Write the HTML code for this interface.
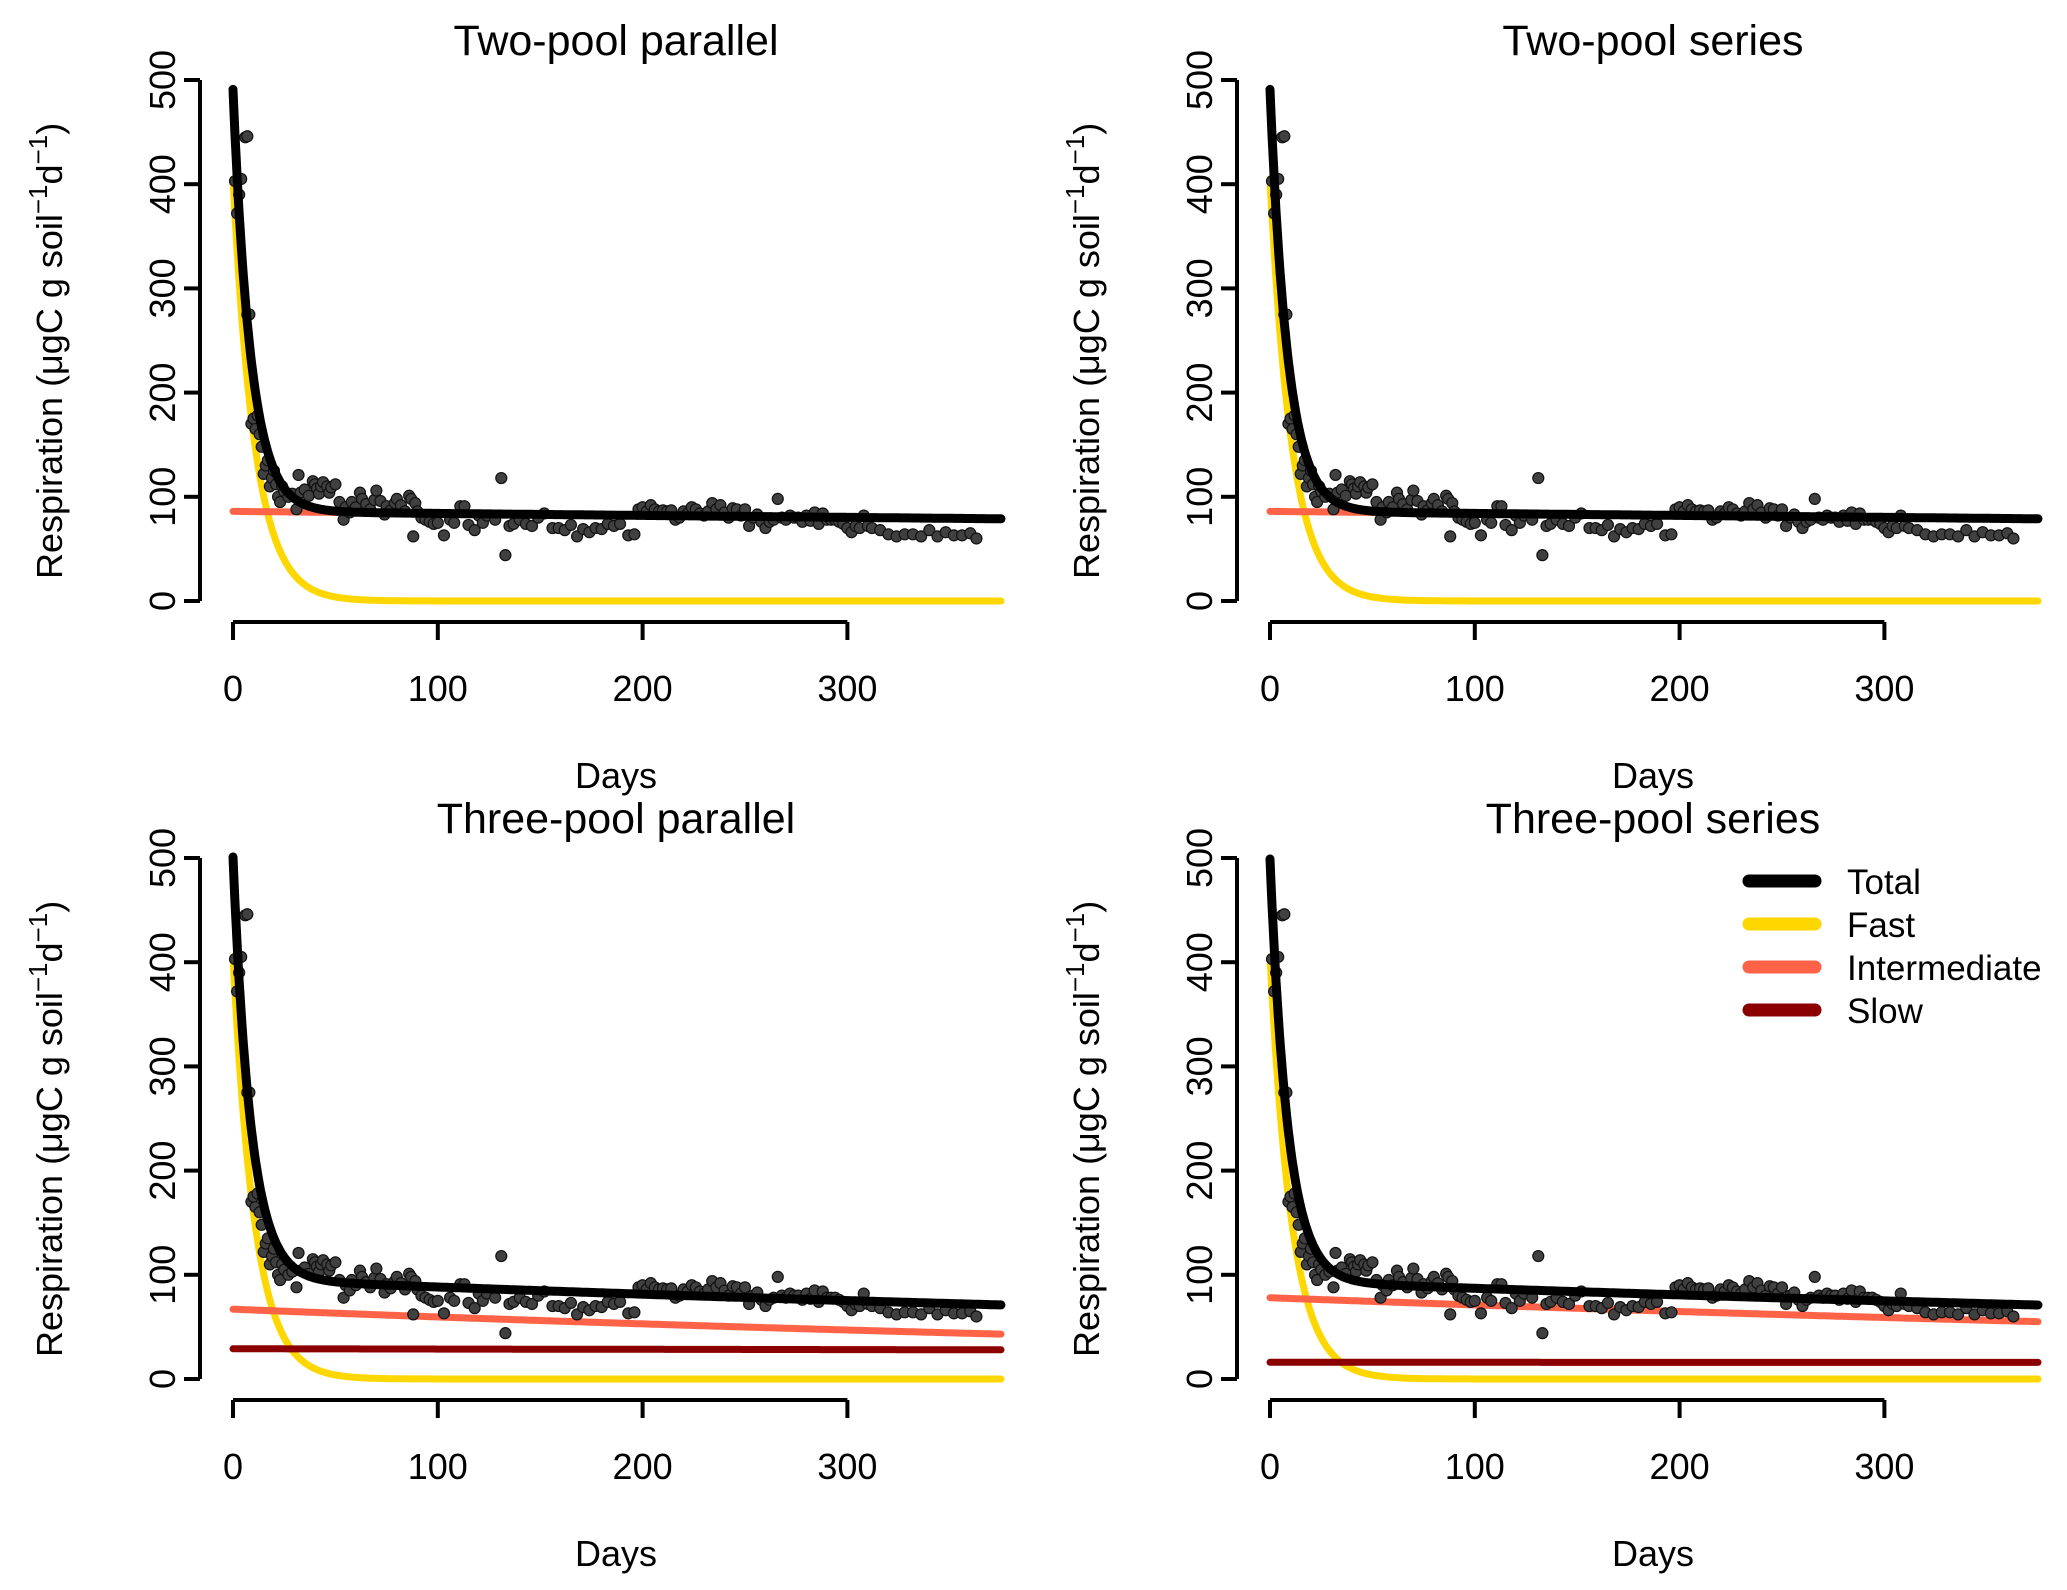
<!DOCTYPE html>
<html><head><meta charset="utf-8"><style>
html,body{margin:0;padding:0;background:#fff;}
svg{display:block;font-family:"Liberation Sans",Arial,sans-serif;}
</style></head><body>
<svg id="chart" width="2067" height="1590" viewBox="0 0 2067 1590" xmlns="http://www.w3.org/2000/svg"></svg>
<script>
const obsDays=[1,2,3,4,6,7,7,8,9,10,11,12,13,14,15,16,17,18,19,20,21,22,23,24,25,27,29,31,32,33,35,37,39,40,41,42,43,44,46,47,48,50,52,54,55,57,58,60,62,63,65,67,69,70,72,74,75,77,79,80,82,84,86,87,88,89,90,92,94,96,98,100,103,106,108,111,113,115,118,120,122,124,128,131,133,135,137,140,143,146,149,152,156,159,162,165,168,171,174,177,180,183,186,189,193,196,198,200,202,204,206,208,210,212,214,216,218,220,222,224,226,228,230,232,234,236,238,240,242,244,246,248,250,252,254,256,258,260,262,264,266,268,270,272,274,276,278,280,282,284,286,288,290,292,294,296,298,300,302,304,306,308,310,312,316,320,324,328,332,336,340,344,348,352,356,360,363];
const obsResp=[403,372,390,405,445,446,275,275,170,175,165,178,160,148,122,130,135,110,118,125,112,100,95,110,105,100,103,88,121,104,107,101,115,112,108,103,110,114,110,104,109,112,95,78,90,85,95,90,104,98,93,88,97,106,96,83,91,87,94,98,92,86,101,98,62,94,86,80,78,76,74,75,63,78,75,91,91,73,68,82,75,82,78,118,44,72,74,78,74,72,80,84,70,70,68,73,62,69,66,70,69,74,72,74,63,64,88,90,86,92,88,86,87,86,87,78,80,86,84,90,88,84,82,86,94,88,92,85,80,89,88,82,88,72,80,83,76,70,76,78,98,80,78,82,80,80,76,82,77,85,74,84,78,78,78,76,74,70,66,72,70,82,72,70,68,64,62,64,64,62,68,62,66,63,63,65,60];
const panelTitles=["Two-pool parallel","Two-pool series","Three-pool parallel","Three-pool series"];
// fitted pool parameters per panel: [initial rate, decay rate per day]
const fastPool=[[405,0.093],[405,0.093],[405,0.093],[405,0.093]];
const totalFastPart=[[405,0.115],[405,0.115],[405,0.115],[405,0.115]];
const interPool=[[86,0.00023],[86,0.00023],[67,0.00118],[78,0.00093]];
const slowPool=[null,null,[29,0.00009],[16,0.00001]];
const xTicks=[0,100,200,300];
const yTicks=[0,100,200,300,400,500];
const legendLabels=["Total","Fast","Intermediate","Slow"];
const legendColors=["#000000","#FFD700","#FF6347","#8B0000"];

const NS="http://www.w3.org/2000/svg";
const svg=document.getElementById('chart');
function mk(tag,attrs,parent){const e=document.createElementNS(NS,tag);for(const k in attrs)e.setAttribute(k,attrs[k]);(parent||svg).appendChild(e);return e;}
const offsets=[[0,0],[1037,0],[0,778],[1037,778]];
const XMAX=375;
offsets.forEach((o,p)=>{
  const g=mk('g',{});
  
  
  const sx=d=>233+o[0]+d*2.048;
  const sy=v=>601+o[1]-v*1.042;
  const t=mk('text',{x:sx(187),y:55+o[1],'font-size':43,'text-anchor':'middle'},g);t.textContent=panelTitles[p];
  
  const ya=mk('line',{x1:200+o[0],x2:200+o[0],y1:sy(0),y2:sy(500),stroke:'#000','stroke-width':4},g);
  
  yTicks.forEach(v=>{
    mk('line',{x1:184+o[0],x2:200+o[0],y1:sy(v),y2:sy(v),stroke:'#000','stroke-width':4},g);
    const tl=mk('text',{x:0,y:0,'font-size':36,'text-anchor':'middle',transform:`translate(${175+o[0]},${sy(v)}) rotate(-90)`},g);
    tl.textContent=v;
  });
  const yl=mk('text',{x:0,y:0,'font-size':36,'text-anchor':'middle',transform:`translate(${62+o[0]},${sy(240)}) rotate(-90)`},g);
  yl.innerHTML='Respiration (μgC g soil<tspan dy="-15" font-size="26">−1</tspan><tspan dy="15">d</tspan><tspan dy="-15" font-size="26">−1</tspan><tspan dy="15">)</tspan>';
  
  const xa=mk('line',{x1:sx(0),x2:sx(300),y1:622+o[1],y2:622+o[1],stroke:'#000','stroke-width':4},g);
  
  xTicks.forEach(d=>{
    mk('line',{x1:sx(d),x2:sx(d),y1:622+o[1],y2:640+o[1],stroke:'#000','stroke-width':4},g);
    const tl=mk('text',{x:sx(d),y:701+o[1],'font-size':36,'text-anchor':'middle'},g);
    tl.textContent=d;
  });
  const xl=mk('text',{x:sx(187),y:788+o[1],'font-size':36,'text-anchor':'middle'},g);
  xl.textContent='Days';
  const pool=(pp,d)=>pp?pp[0]*Math.exp(-pp[1]*d):0;
  const days=[];for(let d=0;d<=XMAX;d+=0.5)days.push(d);
  const path=f=>days.map((d,i)=>(i?'L':'M')+sx(d).toFixed(1)+','+sy(f(d)).toFixed(1)).join('');
  const fl=mk('path',{d:path(d=>pool(fastPool[p],d)),fill:'none',stroke:'#FFD700','stroke-width':7,'stroke-linecap':'round'},g);
  
  const il=mk('path',{d:path(d=>pool(interPool[p],d)),fill:'none',stroke:'#FF6347','stroke-width':7,'stroke-linecap':'round'},g);
  
  if(slowPool[p]){
    const sl=mk('path',{d:path(d=>pool(slowPool[p],d)),fill:'none',stroke:'#8B0000','stroke-width':7,'stroke-linecap':'round'},g);
    
  }
  obsDays.forEach((d,i)=>{
    const c=mk('circle',{cx:sx(d),cy:sy(obsResp[i]),r:5.5,fill:'#404040',stroke:'#111','stroke-width':1.2},g);
    
  });
  const tt=mk('path',{d:path(d=>pool(totalFastPart[p],d)+pool(interPool[p],d)+pool(slowPool[p],d)),fill:'none',stroke:'#000','stroke-width':9,'stroke-linecap':'round'},g);
  
});
const lg=mk('g',{});

legendLabels.forEach((lab,i)=>{
  const y=881+i*43;
  const ln=mk('line',{x1:1749,x2:1815,y1:y,y2:y,stroke:legendColors[i],'stroke-width':13,'stroke-linecap':'round'},lg);
  
  const tx=mk('text',{x:1847,y:y+13,'font-size':35},lg);
  tx.textContent=lab;
});
</script>
</body></html>
